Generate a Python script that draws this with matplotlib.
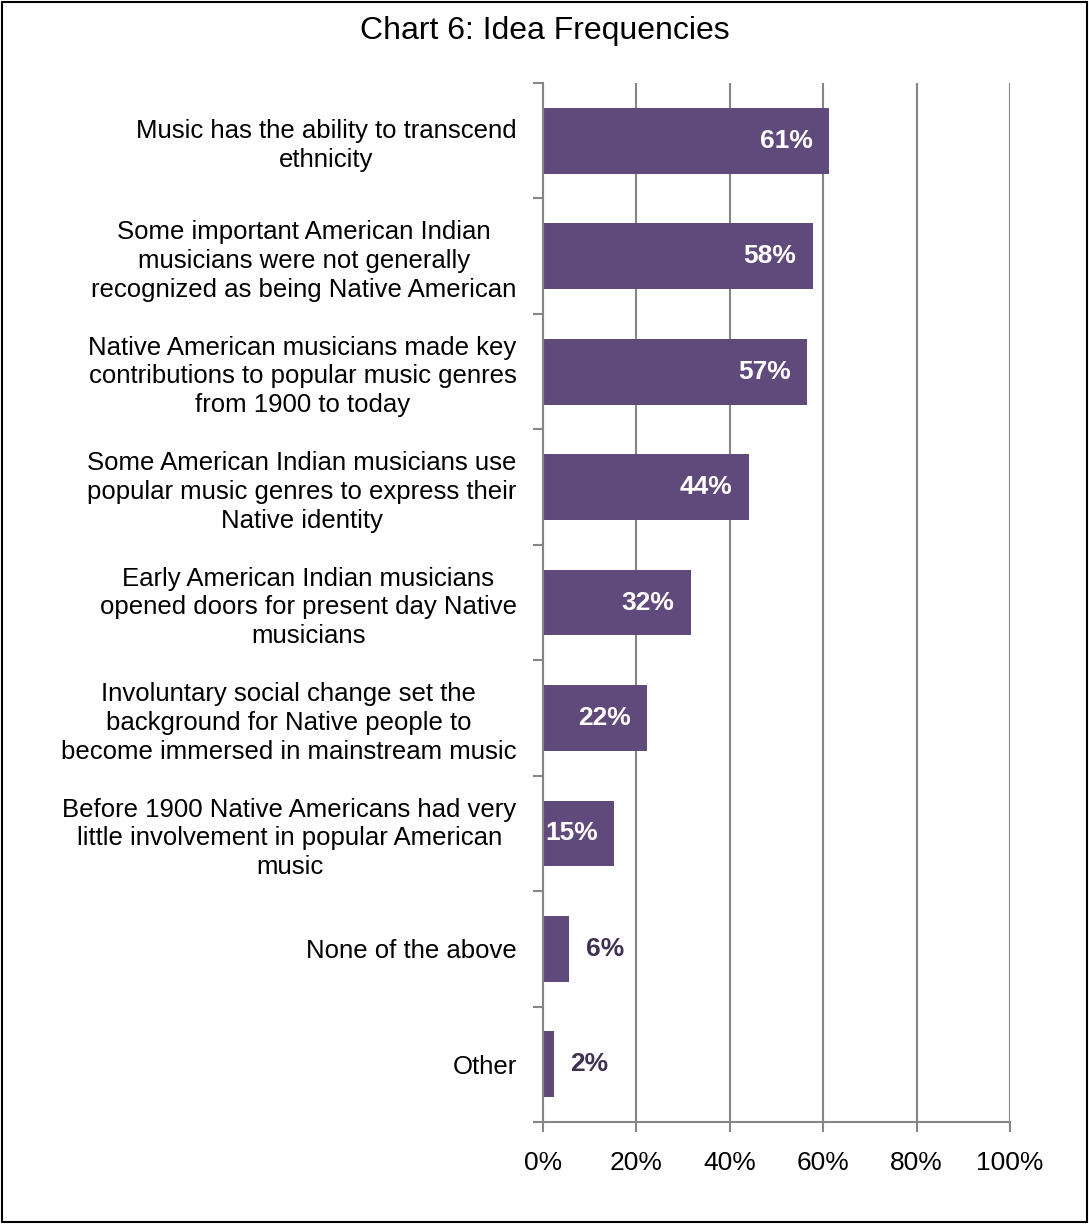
"""Chart 6: Idea Frequencies, horizontal bar chart."""
import matplotlib.pyplot as plt
from matplotlib.patches import Rectangle
from matplotlib.ticker import FixedLocator

plt.rcParams["font.family"] = ["Liberation Sans", "DejaVu Sans"]

categories = [
    "Music has the ability to transcend\nethnicity",
    "Some important American Indian\nmusicians were not generally\nrecognized as being Native American",
    "Native American musicians made key\ncontributions to popular music genres\nfrom 1900 to today",
    "Some American Indian musicians use\npopular music genres to express their\nNative identity",
    "Early American Indian musicians\nopened doors for present day Native\nmusicians",
    "Involuntary social change set the\nbackground for Native people to\nbecome immersed in mainstream music",
    "Before 1900 Native Americans had very\nlittle involvement in popular American\nmusic",
    "None of the above",
    "Other",
]
values = [61.3, 57.8, 56.6, 44.2, 31.7, 22.3, 15.3, 5.6, 2.3]
value_labels = ["61%", "58%", "57%", "44%", "32%", "22%", "15%", "6%", "2%"]
x_ticks = [0, 20, 40, 60, 80, 100]
x_tick_labels = ["0%", "20%", "40%", "60%", "80%", "100%"]

BAR_COLOR = "#604a7b"
DARK_LABEL = "#403152"
GRID_COLOR = "#868686"
FS = 19

fig = plt.figure(figsize=(10.89, 12.24), dpi=100)
fig.patches.append(
    Rectangle((0.002, 0.002), 0.996, 0.996, transform=fig.transFigure,
              fill=False, edgecolor="black", linewidth=1.5)
)

ax = fig.add_axes([0.4986, 0.0833, 0.4289, 0.8489])
n = len(categories)
positions = list(range(n))
ax.barh(positions, values, height=0.57, color=BAR_COLOR, zorder=3)

ax.set_xlim(0, 100)
ax.set_ylim(n - 0.5, -0.5)

ax.set_xticks(x_ticks)
ax.set_xticklabels(x_tick_labels, fontsize=FS)
ax.set_yticks(positions)
ax.set_yticklabels(categories, fontsize=18.5, multialignment="center",
                   linespacing=1.25)
ax.tick_params(axis="y", length=0, pad=19)
ax.yaxis.set_minor_locator(FixedLocator([i - 0.5 for i in range(n + 1)]))
ax.tick_params(axis="y", which="minor", length=7, width=1.5, color=GRID_COLOR,
               direction="out")
ax.tick_params(axis="x", length=7, width=1.5, color=GRID_COLOR,
               direction="out", pad=14)

ax.grid(axis="x", color=GRID_COLOR, linewidth=1.5, zorder=0)
for side in ["top", "right"]:
    ax.spines[side].set_visible(False)
for side in ["left", "bottom"]:
    ax.spines[side].set_color(GRID_COLOR)
    ax.spines[side].set_linewidth(1.5)
    ax.spines[side].set_zorder(4)

for pos, val, lab in zip(positions, values, value_labels):
    if val > 10:
        ax.annotate(lab, (val, pos), xytext=(-12, 0), textcoords="offset points",
                    ha="right", va="center", color="white", fontsize=FS,
                    fontweight="bold", zorder=5)
    else:
        ax.annotate(lab, (val, pos), xytext=(12, 0), textcoords="offset points",
                    ha="left", va="center", color=DARK_LABEL, fontsize=FS,
                    fontweight="bold", zorder=5)

fig.text(0.5, 0.9747, "Chart 6: Idea Frequencies", ha="center", va="center",
         fontsize=23)

fig.savefig("out.png", dpi=100)
